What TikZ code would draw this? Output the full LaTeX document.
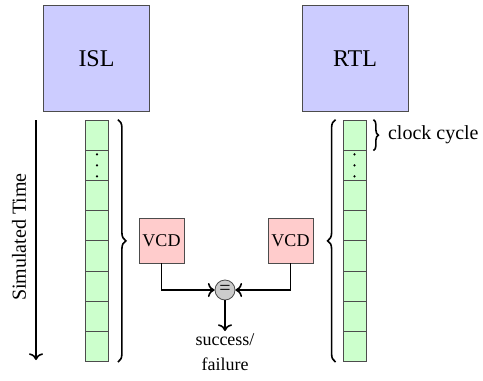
\documentclass[tikz,border=0pt]{standalone}
\usepackage{fontspec}
\setmainfont{Liberation Serif}
\usetikzlibrary{arrows.meta,positioning,calc,decorations.pathreplacing}

\begin{document}
\begin{tikzpicture}[x=0.5pt,y=-0.5pt,
  model/.style={draw=black!70,fill=blue!20,minimum size=53pt,inner sep=0pt,font=\large},
  cell/.style={draw=black!70,fill=green!20,minimum width=11.5pt,minimum height=15.1pt,inner sep=0pt},
  vcd/.style={draw=black!70,fill=red!20,minimum size=22.5pt,inner sep=0pt,font=\small},
  brc/.style={decorate,decoration={brace,amplitude=#1},thick},
  brc/.default=4pt]
  \useasboundingbox (0,0) rectangle (483,381);

  % the two models
  \node[model] (isl) at (96.5,58.5) {ISL};
  \node[model] (rtl) at (355,58.5) {RTL};

  % one cell per clock cycle
  \foreach \i in {0,...,7} {
    \node[cell] (i\i) at (97,{135.1+30.2*\i}) {};
    \node[cell] (r\i) at (354.5,{135.1+30.2*\i}) {};
  }
  \foreach \d in {-11,0,11} {
    \fill ($(i1)+(0,\d)$) circle (0.6pt);
    \fill ($(r1)+(0,\d)$) circle (0.6pt);
  }

  % time axis
  \draw[->,thick] (36,120) -- (36,360);
  \node[rotate=90] (simtime) at (19,237) {Simulated Time};

  % braces over the traces
  \draw[brc] ($(i0.north east)+(9,0)$) -- ($(i7.south east)+(9,0)$);
  \draw[brc] ($(r7.south west)+(-7,0)$) -- ($(r0.north west)+(-7,0)$);
  \draw[brc=2.5pt] ($(r0.north east)+(7,0)$) -- ($(r0.south east)+(7,0)$);
  \node[anchor=west] (clk) at (381,135) {clock cycle};

  % compare the dumps
  \node[vcd] (vl) at (161.5,240.5) {VCD};
  \node[vcd] (vr) at (290.5,240.5) {VCD};
  \node[circle,draw=black!70,fill=gray!40,minimum size=10pt,inner sep=0pt] (eq) at (225,290) {=};
  \draw[->,thick] (vl.south) |- (eq.west);
  \draw[->,thick] (vr.south) |- (eq.east);
  \node[anchor=north,align=center,font=\fontsize{9}{12.5}\selectfont,inner sep=1pt] (res) at (225,331) {success/\\failure};
  \draw[->,thick] (eq.south) -- (res.north);
\end{tikzpicture}
\end{document}
